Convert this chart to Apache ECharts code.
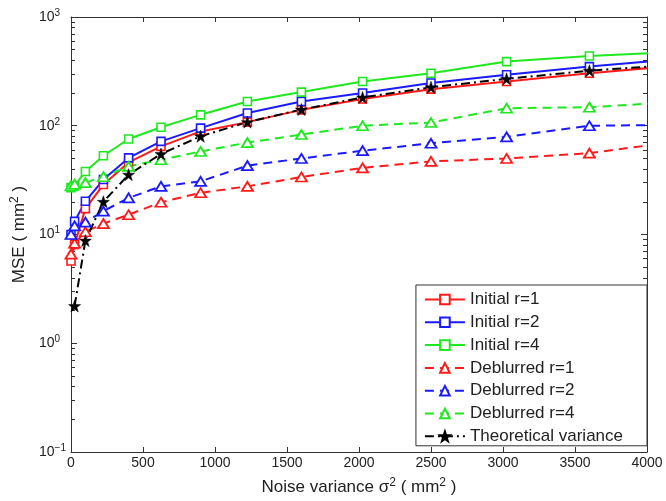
<!DOCTYPE html>
<html>
<head>
<meta charset="utf-8">
<script src="https://cdn.jsdelivr.net/npm/echarts@6/dist/echarts.min.js"></script>
<style>
html,body{margin:0;padding:0;background:#fff;}
#c{width:666px;height:501px;}
</style>
</head>
<body>
<div id="c"></div>
<script>
// Noise variance sigma^2 (mm^2); last sample lies beyond the axis end and is clipped
const sigma2 = [0, 25, 100, 225, 400, 625, 900, 1225, 1600, 2025, 2500, 3025, 3600, 4225];
const initialR1 = [5.7, 8.1, 17.3, 28.8, 46, 64.6, 88.7, 108, 140, 176, 217, 255, 304, 359];
const initialR2 = [10, 13.2, 20.2, 32, 50.6, 71.8, 95, 131, 167, 200, 247, 294, 350, 413];
const initialR4 = [27, 28, 38, 53, 75.5, 97, 126, 167, 204, 255, 304, 389, 438, 480];
const deblurredR1 = [6.6, 8.3, 10.6, 12.6, 15.2, 19.8, 24.2, 27.7, 33.8, 41, 47, 50, 56, 72];
const deblurredR2 = [10, 12, 13, 16.4, 21.7, 27.7, 30.8, 43, 50, 59, 69, 79, 100, 102];
const deblurredR4 = [28, 29, 30, 34, 42.3, 48.7, 58, 70, 83, 100, 107, 145, 148, 166];
const theoretical = [null, 2.2, 8.8, 20, 35.5, 55, 80, 108, 141, 182, 226, 270, 321, 366];
const xTicks = [0, 500, 1000, 1500, 2000, 2500, 3000, 3500, 4000];
const yDecades = [0.1, 1, 10, 100, 1000];

const minorY = [];
for (let d = 0; d < yDecades.length - 1; d++) {
  for (let k = 2; k <= 9; k++) minorY.push(+(yDecades[d] * k).toPrecision(3));
}

function pairs(ys) {
  const out = [];
  ys.forEach((v, i) => { if (v !== null) out.push([sigma2[i], v]); });
  return out;
}

const STAR = 'path://M50,0 L61.8,35.1 L98.9,35.1 L68.9,56.8 L80.2,91.9 L50,70.2 L19.8,91.9 L31.1,56.8 L1.1,35.1 L38.2,35.1 Z';
const RED = '#ff1a1a', BLUE = '#1a1aff', GREEN = '#1ee81e';
const FONT = '"Liberation Sans", Arial, sans-serif';
const TXT = '#222';

function initial(name, color, ys) {
  return {
    name, type: 'line', data: pairs(ys), clip: true,
    symbol: 'rect', symbolSize: 8,
    itemStyle: { color: '#fff', borderColor: color, borderWidth: 1.6 },
    lineStyle: { color, width: 2, type: 'solid' },
    emphasis: { disabled: true }
  };
}
function deblurred(name, color, ys) {
  return {
    name, type: 'line', data: pairs(ys), clip: true,
    symbol: 'triangle', symbolSize: [11, 9],
    itemStyle: { color: '#fff', borderColor: color, borderWidth: 1.8 },
    lineStyle: { color, width: 2, type: [9, 6] },
    emphasis: { disabled: true }
  };
}

const supRich = {
  b: { fontSize: 14, color: TXT, fontFamily: FONT },
  s: { fontSize: 10, color: TXT, fontFamily: FONT, verticalAlign: 'bottom', padding: [0, 0, 8, 0] },
  n: { fontSize: 17, color: TXT, fontFamily: FONT },
  ns: { fontSize: 12, color: TXT, fontFamily: FONT, verticalAlign: 'bottom', padding: [0, 0, 9, 0] }
};

const axisLineStyle = { lineStyle: { color: '#333', width: 1 } };

const option = {
  animation: false,
  backgroundColor: '#fff',
  textStyle: { fontFamily: FONT },
  grid: { left: 71, right: 19, top: 17, bottom: 48, containLabel: false },
  xAxis: [
    {
      type: 'value', position: 'bottom', min: 0, max: 4000, interval: 500,
      axisLine: axisLineStyle,
      axisTick: { inside: true, length: 5, lineStyle: { color: '#333' } },
      splitLine: { show: false },
      axisLabel: { fontSize: 14, color: TXT, margin: 4, fontFamily: FONT,
        formatter: v => xTicks.indexOf(v) >= 0 ? String(v) : '' },
      name: '{n|Noise variance σ}{ns|2}{n| ( mm}{ns|2}{n| )}',
      nameLocation: 'middle', nameGap: 25,
      nameTextStyle: { rich: supRich }
    },
    {
      type: 'value', position: 'top', min: 0, max: 4000, interval: 500,
      axisLine: axisLineStyle,
      axisTick: { inside: true, length: 5, lineStyle: { color: '#333' } },
      axisLabel: { show: false }, splitLine: { show: false }
    }
  ],
  yAxis: [
    {
      type: 'log', logBase: 10, position: 'left', min: 0.1, max: 1000,
      axisLine: axisLineStyle,
      axisTick: { inside: true, length: 6, customValues: yDecades, lineStyle: { color: '#333' } },
      splitLine: { show: false },
      axisLabel: {
        customValues: yDecades,
        align: 'left', margin: 32,
        formatter: v => '{b|10}{s|' + String(Math.round(Math.log10(v))).replace('-', '−') + '}',
        rich: supRich
      },
      name: '{n|MSE ( mm}{ns|2}{n| )}',
      nameLocation: 'middle', nameGap: 36,
      nameTextStyle: { rich: supRich }
    },
    {
      type: 'log', logBase: 10, position: 'left', min: 0.1, max: 1000,
      axisLine: { show: false },
      axisTick: { inside: true, length: 4, customValues: minorY, lineStyle: { color: '#333' } },
      axisLabel: { show: false }, splitLine: { show: false }
    },
    {
      type: 'log', logBase: 10, position: 'right', min: 0.1, max: 1000,
      axisLine: axisLineStyle,
      axisTick: { inside: true, length: 6, customValues: yDecades, lineStyle: { color: '#333' } },
      axisLabel: { show: false }, splitLine: { show: false }
    },
    {
      type: 'log', logBase: 10, position: 'right', min: 0.1, max: 1000,
      axisLine: { show: false },
      axisTick: { inside: true, length: 4, customValues: minorY, lineStyle: { color: '#333' } },
      axisLabel: { show: false }, splitLine: { show: false }
    }
  ],
  legend: {
    orient: 'vertical', right: 19, top: 285,
    backgroundColor: '#fff', borderColor: '#333', borderWidth: 1, borderRadius: 0,
    padding: [6, 24, 1, 8],
    itemWidth: 40, itemHeight: 12, itemGap: 5.8,
    textStyle: { fontSize: 17, color: TXT, fontFamily: FONT, lineHeight: 17 },
    data: ['Initial r=1', 'Initial r=2', 'Initial r=4', 'Deblurred r=1', 'Deblurred r=2', 'Deblurred r=4', 'Theoretical variance']
  },
  series: [
    initial('Initial r=1', RED, initialR1),
    initial('Initial r=2', BLUE, initialR2),
    initial('Initial r=4', GREEN, initialR4),
    deblurred('Deblurred r=1', RED, deblurredR1),
    deblurred('Deblurred r=2', BLUE, deblurredR2),
    deblurred('Deblurred r=4', GREEN, deblurredR4),
    {
      name: 'Theoretical variance', type: 'line', data: pairs(theoretical), clip: true,
      symbol: STAR, symbolSize: 12,
      itemStyle: { color: '#000', borderColor: '#000', borderWidth: 0.5 },
      lineStyle: { color: '#000', width: 2, type: [9, 4, 2, 4] },
      emphasis: { disabled: true }
    }
  ]
};

const chart = echarts.init(document.getElementById('c'), null, { renderer: 'canvas' });
chart.setOption(option);
</script>
</body>
</html>
